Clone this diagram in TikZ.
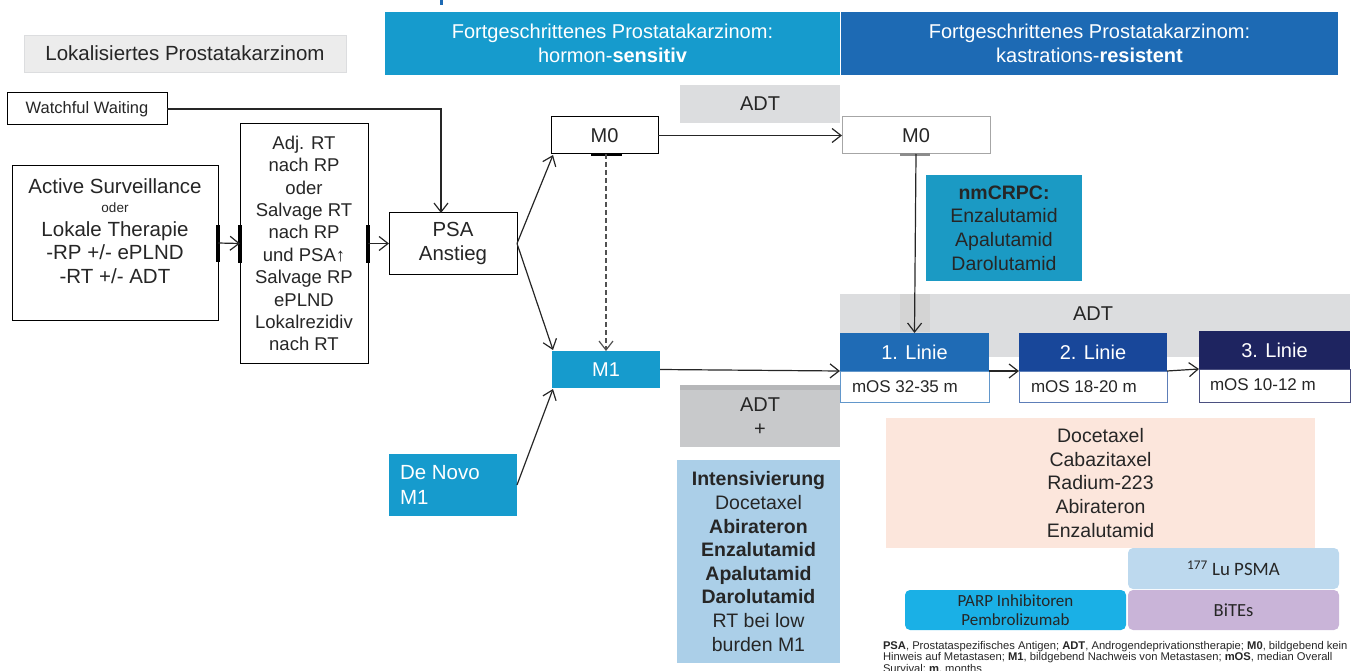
\documentclass[tikz,border=0pt]{standalone}
\usepackage{fontspec}
\setmainfont{Liberation Sans}
\newfontfamily\calfont{Carlito}
\usetikzlibrary{arrows.meta,calc}
\definecolor{hdrA}{HTML}{169BCD}
\definecolor{hdrB}{HTML}{1D6AB4}
\definecolor{txt}{HTML}{262626}
\definecolor{adtgray}{HTML}{DCDDDF}
\definecolor{adtdark}{HTML}{C8C9CB}
\definecolor{adtstrip}{HTML}{B6B7B9}
\definecolor{nmblue}{HTML}{1B9AC4}
\definecolor{linA}{HTML}{1F6BB5}
\definecolor{linB}{HTML}{18479A}
\definecolor{linC}{HTML}{1E2460}
\definecolor{intblue}{HTML}{ABCFE8}
\definecolor{peach}{HTML}{FCE6DC}
\definecolor{lublue}{HTML}{BDD9EE}
\definecolor{parpblue}{HTML}{1AB0E6}
\definecolor{bitespurple}{HTML}{C9B4D8}
\definecolor{lokgray}{HTML}{ECECEC}
\tikzset{
  base/.style={inner sep=0pt, outer sep=0pt, align=center, text=txt},
  wbox/.style={base, draw=black, line width=1pt, fill=white},
  fbox/.style={base, draw=none},
  arr/.style={-{Straight Barb[length=9pt,width=14pt,line width=1.2pt]}, line width=1.2pt, draw=txt},
  bar/.style={line width=3.4pt, draw=black},
  fA/.style={font=\fontsize{20}{24}\selectfont},
  fB/.style={font=\fontsize{18.5}{22.4}\selectfont},
  fC/.style={font=\fontsize{19.5}{23.6}\selectfont},
  fM/.style={font=\fontsize{17}{20}\selectfont},
}
\begin{document}
\begin{tikzpicture}[x=1pt,y=-1pt]
\useasboundingbox (0,0) rectangle (1357,671);
% small tick top
\fill[hdrB] (440,0) rectangle (443,5);
% headers
\node[fbox, fill=hdrA, text=white, minimum width=455pt, minimum height=63pt, font=\fontsize{20}{24}\selectfont] (hdr1) at (612.5,43.5) {Fortgeschrittenes Prostatakarzinom:\\hormon-\textbf{sensitiv}};
\node[fbox, fill=hdrB, text=white, minimum width=497pt, minimum height=63pt, font=\fontsize{20}{24}\selectfont] (hdr2) at (1089.5,43.5) {Fortgeschrittenes Prostatakarzinom:\\kastrations-\textbf{resistent}};
\node[base, fill=lokgray, draw=adtgray, line width=0.8pt, minimum width=322pt, minimum height=37pt, font=\fontsize{20.5}{24}\selectfont] (lok) at (185,53.5) {Lokalisiertes Prostatakarzinom};
% left boxes
\node[wbox, minimum width=160pt, minimum height=32pt, font=\fontsize{16.5}{19}\selectfont] (ww) at (87,109) {Watchful Waiting};
\node[wbox, minimum width=206pt, minimum height=154pt] (as) at (115,243) {};
\node[base, font=\fontsize{20.5}{23.5}\selectfont] (astext) at (115,231) {Active Surveillance\\[-4pt]{\fontsize{13.5}{15}\selectfont oder}\\Lokale Therapie\\-RP +/- ePLND\\-RT +/- ADT};
\node[wbox, minimum width=128pt, minimum height=239pt, fB] (adj) at (304,243.5) {Adj. RT\\nach RP\\oder\\Salvage RT\\nach RP\\und PSA\textuparrow\\Salvage RP\\ePLND\\Lokalrezidiv\\nach RT};
\node[wbox, minimum width=128pt, minimum height=61pt, font=\fontsize{20.4}{24.5}\selectfont] (psa) at (453,243.5) {PSA\\Anstieg};
\node[wbox, minimum width=107pt, minimum height=37pt, fA] (m0a) at (604.5,135.5) {M0};
\node[fbox, fill=hdrA, text=white, minimum width=108pt, minimum height=37pt, fA] (m1) at (606,369.5) {M1};
\node[fbox, fill=hdrA, minimum width=128pt, minimum height=62pt] (denovo) at (453,485) {};
\node[base, text=white, anchor=west, align=left, font=\fontsize{20.5}{24.5}\selectfont] (denovotext) at (400,485) {De Novo\\M1};
% ADT boxes
\node[fbox, fill=adtgray, minimum width=160pt, minimum height=38pt, fA] (adt1) at (760,104) {ADT};
\node[base, draw=black!35, line width=1pt, fill=white, minimum width=148pt, minimum height=37pt, fA] (m0b) at (916,135.5) {M0};
\fill[black!45] (900,153) rectangle (930,156);
\fill[black] (591,153) rectangle (622,156);
\node[fbox, fill=nmblue, minimum width=156pt, minimum height=106pt, fC] (nm) at (1004,228) {\textbf{nmCRPC:}\\Enzalutamid\\Apalutamid\\Darolutamid};
% ADT band
\fill[adtgray] (840,294) rectangle (1350,357);
\fill[black!17] (900,294) rectangle (930,332);
\node[base, fA] (adtband) at (1093,314) {ADT};
% Linien
\node[fbox, fill=linA, text=white, minimum width=149pt, minimum height=38pt, fA] (l1h) at (914.5,352) {1. Linie};
\node[base, draw=linA!70, line width=1pt, fill=white, minimum width=149pt, minimum height=31pt] (l1m) at (914.5,386.5) {};
\node[base, anchor=west, fM] at (852,386.5) {mOS 32-35 m};
\node[fbox, fill=linB, text=white, minimum width=148pt, minimum height=38pt, fA] (l2h) at (1093,352) {2. Linie};
\node[base, draw=linB!70, line width=1pt, fill=white, minimum width=148pt, minimum height=31pt] (l2m) at (1093,386.5) {};
\node[base, anchor=west, fM] at (1031,386.5) {mOS 18-20 m};
\node[fbox, fill=linC, text=white, minimum width=151pt, minimum height=38pt, fA] (l3h) at (1274.5,350) {3. Linie};
\node[base, draw=linC!80, line width=1pt, fill=white, minimum width=151pt, minimum height=33pt] (l3m) at (1274.5,385.5) {};
\node[base, anchor=west, fM] at (1210,385) {mOS 10-12 m};
% ADT +
\node[fbox, fill=adtdark, minimum width=160pt, minimum height=62pt] (adtplus) at (760,416) {};
\fill[adtstrip] (680,385) rectangle (840,390);
\node[base, font=\fontsize{20}{24}\selectfont] at (760,417) {ADT\\+};
% Intensivierung
\node[fbox, fill=intblue, minimum width=163pt, minimum height=203pt, fC] (intens) at (758.5,561.5) {\textbf{Intensivierung}\\Docetaxel\\\textbf{Abirateron}\\\textbf{Enzalutamid}\\\textbf{Apalutamid}\\\textbf{Darolutamid}\\RT bei low\\burden M1};
% peach
\node[fbox, fill=peach, minimum width=429pt, minimum height=130pt, fC] (peachbox) at (1100.5,483) {Docetaxel\\Cabazitaxel\\Radium-223\\Abirateron\\Enzalutamid};
\node[fbox, fill=lublue, rounded corners=5pt, minimum width=211pt, minimum height=41pt, font=\calfont\fontsize{18.9}{21}\selectfont] (lu) at (1233.5,568.5) {\textsuperscript{177} Lu PSMA};
\node[fbox, fill=parpblue, rounded corners=5pt, minimum width=221pt, minimum height=40pt, font=\calfont\fontsize{17}{19.5}\selectfont] (parp) at (1015.5,610) {PARP Inhibitoren\\Pembrolizumab};
\node[fbox, fill=bitespurple, rounded corners=5pt, minimum width=211pt, minimum height=40pt, font=\calfont\fontsize{18.5}{21}\selectfont] (bites) at (1233.5,610) {BiTEs};
% legend
\node[base, anchor=north west, align=left, font=\fontsize{11.2}{11.6}\selectfont] (legend) at (883,641) {\textbf{PSA}, Prostataspezifisches Antigen; \textbf{ADT}, Androgendeprivationstherapie; \textbf{M0}, bildgebend kein\\Hinweis auf Metastasen; \textbf{M1}, bildgebend Nachweis von Metastasen; \textbf{mOS}, median Overall\\Survival; \textbf{m}, months};
% connectors
\coordinate (wwin) at (441,213);
\draw[arr] (ww.east) -| (wwin);
\draw[bar] ($(as.east)+(0,-18)$) -- ($(as.east)+(0,19)$);
\draw[bar] ($(adj.west)+(0,-18)$) -- ($(adj.west)+(0,19)$);
\draw[bar] ($(adj.east)+(0,-18)$) -- ($(adj.east)+(0,19)$);
\draw[arr] (as.east) -- (adj.west);
\draw[arr] (adj.east) -- (psa.west);
\draw[arr] (psa.east) -- ($(m0a.south west)+(2,1)$);
\draw[arr] (psa.east) -- ($(m1.north west)+(1,-1)$);
\draw[arr, dashed, dash pattern=on 5pt off 3pt, draw=txt!80] ($(m0a.south)+(1.5,0)$) -- (m1.north);
\draw[arr] (denovo.east) -- ($(m1.south west)+(1,1)$);
\draw[arr] (m0a.east) -- (m0b.west);
\draw[arr] (m0b.south) -- (l1h.north);
\draw[arr] (m1.east) -- (l1h.south west);
\draw[arr] (l1h.south east) -- (l2h.south west);
\draw[arr] (l2h.south east) -- (l3m.north west);
\end{tikzpicture}
\end{document}
